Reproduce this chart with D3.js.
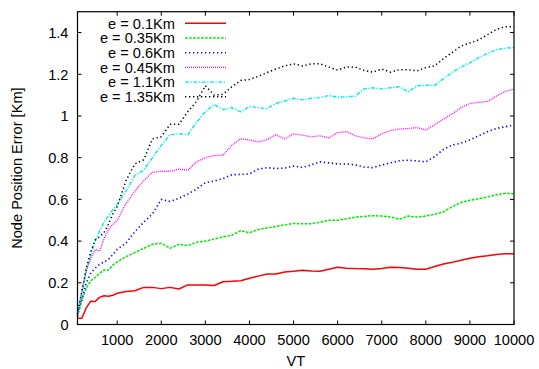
<!DOCTYPE html>
<html><head><meta charset="utf-8">
<script src="https://cdn.jsdelivr.net/npm/d3@7"></script>
<style>body{margin:0;background:#fff}svg{display:block}text{font-family:"Liberation Sans",Arial,Helvetica,sans-serif}</style>
</head><body><svg id="c" width="539" height="369"></svg>
<script>
const vt = [100,200,300,400,500,600,700,800,900,1000,1200,1400,1600,1800,2000,2200,2400,2600,2800,3000,3200,3400,3600,3800,4000,4200,4400,4600,4800,5000,5200,5400,5600,5800,6000,6200,6400,6600,6800,7000,7200,7400,7600,7800,8000,8200,8400,8600,8800,9000,9200,9400,9600,9800,10000];
const e010 = [0.03,0.03,0.08,0.112,0.11,0.13,0.138,0.135,0.14,0.15,0.158,0.162,0.178,0.178,0.172,0.178,0.17,0.19,0.19,0.19,0.187,0.205,0.207,0.21,0.222,0.232,0.242,0.242,0.252,0.255,0.26,0.257,0.255,0.265,0.275,0.27,0.268,0.267,0.265,0.268,0.275,0.273,0.27,0.265,0.265,0.278,0.29,0.298,0.308,0.318,0.325,0.33,0.336,0.339,0.339];
const e035 = [0.05,0.12,0.175,0.21,0.225,0.245,0.262,0.26,0.285,0.30,0.325,0.345,0.365,0.385,0.39,0.365,0.385,0.378,0.395,0.40,0.41,0.42,0.428,0.45,0.44,0.455,0.463,0.47,0.478,0.485,0.483,0.483,0.49,0.5,0.5,0.507,0.515,0.518,0.522,0.52,0.516,0.505,0.52,0.515,0.52,0.528,0.54,0.565,0.585,0.596,0.603,0.612,0.622,0.629,0.627];
const e060 = [0.04,0.12,0.2,0.245,0.27,0.288,0.3,0.312,0.335,0.36,0.39,0.445,0.49,0.53,0.60,0.59,0.605,0.625,0.65,0.68,0.688,0.70,0.718,0.72,0.722,0.745,0.752,0.748,0.75,0.76,0.753,0.765,0.78,0.775,0.77,0.77,0.765,0.755,0.752,0.765,0.775,0.785,0.788,0.784,0.78,0.805,0.84,0.86,0.87,0.885,0.905,0.925,0.94,0.948,0.957];
const e045 = [0.06,0.16,0.26,0.315,0.36,0.352,0.41,0.456,0.48,0.5,0.58,0.64,0.69,0.73,0.735,0.735,0.745,0.74,0.78,0.80,0.81,0.812,0.86,0.89,0.885,0.875,0.886,0.91,0.89,0.915,0.908,0.9,0.905,0.895,0.92,0.925,0.905,0.895,0.89,0.915,0.93,0.937,0.94,0.944,0.933,0.958,0.985,1.01,1.04,1.06,1.065,1.07,1.095,1.118,1.128];
const e110 = [0.05,0.15,0.26,0.33,0.4,0.448,0.49,0.52,0.55,0.575,0.64,0.715,0.74,0.80,0.86,0.91,0.915,0.91,0.97,1.02,1.055,1.03,1.04,1.02,1.045,1.04,1.035,1.06,1.072,1.085,1.077,1.085,1.088,1.098,1.09,1.092,1.095,1.13,1.135,1.13,1.135,1.14,1.115,1.145,1.147,1.147,1.178,1.21,1.235,1.255,1.28,1.3,1.318,1.325,1.328];
const e135 = [0.05,0.16,0.27,0.35,0.405,0.42,0.44,0.48,0.53,0.565,0.69,0.77,0.79,0.89,0.9,0.96,0.96,1.02,1.07,1.145,1.1,1.104,1.14,1.17,1.175,1.19,1.208,1.225,1.24,1.25,1.24,1.25,1.25,1.235,1.22,1.235,1.235,1.218,1.21,1.225,1.21,1.222,1.222,1.216,1.232,1.24,1.275,1.305,1.335,1.35,1.365,1.39,1.415,1.428,1.428];
const seriesNames = ["e = 0.1Km","e = 0.35Km","e = 0.6Km","e = 0.45Km","e = 1.1Km","e = 1.35Km"];
const seriesValues = [e010,e035,e060,e045,e110,e135];
const xTicks = [1000,2000,3000,4000,5000,6000,7000,8000,9000,10000];
const yTicks = [0,0.2,0.4,0.6,0.8,1,1.2,1.4];

const colors = ["#ff0000","#00ee00","#0000ff","#ff00ff","#00eeee","#000000"];
const dashes = [null,"2.7,1.3","1.3,2.7","1,1","4,1.5,1.3,1.5","1.3,2.7"];
const widths = [1.5,1.5,1.6,1.3,1.4,1.5];

const L=77.5,R=514,T=11.7,B=324.5;
const x = d3.scaleLinear().domain([100,10000]).range([L,R]);
const y = d3.scaleLinear().domain([0,1.5]).range([B,T]);
const svg = d3.select("#c");
const fs = 14.6;

const plot = svg.append("g");
const line = d3.line().x((d,i)=>x(vt[i])).y(d=>y(d));
seriesValues.forEach((vals,k)=>{
  plot.append("path").datum(vals).attr("d",line).attr("fill","none")
    .attr("stroke",colors[k]).attr("stroke-width",widths[k])
    .attr("stroke-dasharray",dashes[k]).attr("stroke-linejoin","round");
});

// axes with inward ticks, mirrored
const tl=4;
const ax = svg.append("g");
xTicks.forEach(t=>{
  ax.append("line").attr("x1",x(t)).attr("x2",x(t)).attr("y1",B).attr("y2",B-tl).attr("stroke","#000");
  ax.append("line").attr("x1",x(t)).attr("x2",x(t)).attr("y1",T).attr("y2",T+tl).attr("stroke","#000");
  ax.append("text").attr("x",x(t)).attr("y",B+20).attr("text-anchor","middle").attr("font-size",fs).attr("fill","#000").text(t);
});
yTicks.forEach(t=>{
  ax.append("line").attr("x1",L).attr("x2",L+tl).attr("y1",y(t)).attr("y2",y(t)).attr("stroke","#000");
  ax.append("line").attr("x1",R).attr("x2",R-tl).attr("y1",y(t)).attr("y2",y(t)).attr("stroke","#000");
  ax.append("text").attr("x",L-9).attr("y",y(t)).attr("dy","0.36em").attr("text-anchor","end").attr("font-size",fs).attr("fill","#000").text(t);
});
ax.append("rect").attr("x",L).attr("y",T).attr("width",R-L).attr("height",B-T).attr("fill","none").attr("stroke","#000").attr("stroke-width",1.2);

svg.append("text").attr("x",(L+R)/2).attr("y",366).attr("text-anchor","middle").attr("font-size",fs).text("VT");
svg.append("text").attr("transform","translate(22,"+((T+B)/2)+") rotate(-90)").attr("text-anchor","middle").attr("font-size",fs).text("Node Position Error [Km]");

// legend
const lg = svg.append("g");
seriesNames.forEach((n,k)=>{
  const yy = 23.3 + k*14.7;
  lg.append("text").attr("x",175).attr("y",yy).attr("dy","0.36em").attr("text-anchor","end").attr("font-size",fs).text(n);
  lg.append("line").attr("x1",185).attr("x2",226).attr("y1",yy).attr("y2",yy)
    .attr("stroke",colors[k]).attr("stroke-width",widths[k]).attr("stroke-dasharray",dashes[k]);
});
</script></body></html>
